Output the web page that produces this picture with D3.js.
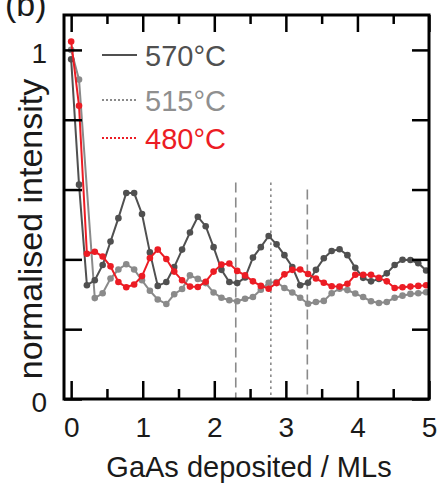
<!DOCTYPE html>
<html><head><meta charset="utf-8">
<script src="https://cdn.jsdelivr.net/npm/d3@7"></script>
<style>
body{margin:0;background:#fff;}
svg text{font-family:"Liberation Sans",Arial,sans-serif;}
</style></head>
<body><svg id="c" width="439" height="486"></svg>
<script>
// ---- data ----
const xML = [0,0.11,0.22,0.33,0.44,0.55,0.66,0.77,0.88,0.99,1.10,1.21,1.33,1.44,1.55,1.66,1.77,1.88,1.99,2.10,2.21,2.32,2.43,2.54,2.65,2.76,2.87,2.98,3.09,3.20,3.31,3.42,3.53,3.64,3.75,3.86,3.97,4.08,4.19,4.30,4.41,4.52,4.63,4.74,4.85,4.96];
const s570 = [0.973,0.614,0.326,0.34,0.384,0.451,0.518,0.59,0.59,0.53,0.42,0.324,0.335,0.378,0.428,0.477,0.522,0.495,0.435,0.37,0.335,0.332,0.348,0.405,0.435,0.467,0.443,0.412,0.378,0.326,0.333,0.37,0.403,0.424,0.429,0.412,0.376,0.347,0.337,0.344,0.36,0.384,0.399,0.398,0.389,0.368];
const s515 = [1.0,0.915,null,0.289,0.303,0.345,0.371,0.386,0.371,0.34,0.31,0.285,0.272,0.3,0.315,0.354,0.344,0.332,0.305,0.29,0.283,0.28,0.287,0.292,0.313,0.333,0.335,0.318,0.305,0.29,0.273,0.278,0.281,0.303,0.316,0.312,0.302,0.292,0.28,0.275,0.278,0.29,0.296,0.301,0.303,0.306];
const s480 = [1.024,0.84,0.416,0.422,0.408,0.38,0.335,0.32,0.328,0.352,0.404,0.428,0.401,0.365,0.34,0.322,0.321,0.336,0.365,0.385,0.388,0.367,0.354,0.337,0.324,0.316,0.332,0.357,0.37,0.371,0.358,0.345,0.333,0.323,0.322,0.33,0.356,0.356,0.356,0.347,0.337,0.318,0.32,0.322,0.324,0.326];
const seriesNames = ["570°C","515°C","480°C"];
const xTicks = [0,1,2,3,4,5];
const xMinorTicks = [0.5,1.5,2.5,3.5,4.5];
const yTicks = [0,0.2,0.4,0.6,0.8,1.0];
const yTickLabels = ["0","","","","","1"];
const vLineX = [2.3,2.79,3.3];
const vLineTop = [0.62,0.62,0.60];
const vLineKind = ["dash","dot","dash"];

// ---- layout ----
const svg = d3.select("#c");
const L=64, R=429, T=15, B=399;
const x = d3.scaleLinear().domain([-0.1,5]).range([L,R]);
const y = d3.scaleLinear().domain([0,1.1]).range([B,T]);
const colors = ["#505050","#8a8a8a","#ec1c24"];
const legendDash = [null,"2,2","2,2"];
const textColors = ["#505050","#8f8f8f","#ec1c24"];

// vertical reference lines
vLineX.forEach((v,i)=>{
  svg.append("line").attr("x1",x(v)).attr("x2",x(v)).attr("y1",y(vLineTop[i])).attr("y2",y(0))
    .attr("stroke","#8a8a8a").attr("stroke-width",1.6)
    .attr("stroke-dasharray",vLineKind[i]==="dash"?"10,5":"2.5,3.5");
});

// series
const all=[s570,s515,s480];
const order=[1,0,2];
order.forEach(k=>{
  const pts = xML.map((xv,i)=>[xv,all[k][i]]).filter(p=>p[1]!==null);
  const g=svg.append("g");
  g.append("path").datum(pts)
   .attr("d",d3.line().x(d=>x(d[0])).y(d=>y(d[1])))
   .attr("fill","none").attr("stroke",colors[k]).attr("stroke-width",2);
  g.selectAll("circle").data(pts).join("circle")
   .attr("cx",d=>x(d[0])).attr("cy",d=>y(d[1])).attr("r",3.3).attr("fill",colors[k]);
});

// axes
function styleAxis(g){
  g.select(".domain").remove();
  g.selectAll(".tick line").attr("stroke","#000").attr("stroke-width",2.5);
  g.selectAll(".tick text").attr("fill","#1a1a1a").style("font-size","28px")
   .style("font-family",'"Liberation Sans",Arial,sans-serif');
}
svg.append("g").attr("transform",`translate(0,${B})`)
  .call(d3.axisBottom(x).tickValues(xTicks).tickSizeInner(-18).tickSizeOuter(0).tickPadding(18).tickFormat(d3.format("d")))
  .call(styleAxis);
svg.append("g").attr("transform",`translate(0,${B})`)
  .call(d3.axisBottom(x).tickValues(xMinorTicks).tickSizeInner(-10).tickSizeOuter(0).tickFormat(""))
  .call(styleAxis);
svg.append("g").attr("transform",`translate(0,${T})`)
  .call(d3.axisTop(x).tickValues(xTicks).tickSizeInner(-17).tickSizeOuter(0).tickFormat(""))
  .call(styleAxis);
svg.append("g").attr("transform",`translate(0,${T})`)
  .call(d3.axisTop(x).tickValues(xMinorTicks).tickSizeInner(-9).tickSizeOuter(0).tickFormat(""))
  .call(styleAxis);
svg.append("g").attr("transform",`translate(${L},0)`)
  .call(d3.axisLeft(y).tickValues(yTicks).tickSizeInner(-18).tickSizeOuter(0).tickPadding(17).tickFormat((d,i)=>yTickLabels[i]))
  .call(styleAxis)
  .call(g=>g.selectAll(".tick text").attr("dy","0.45em"));
svg.append("g").attr("transform",`translate(${R},0)`)
  .call(d3.axisRight(y).tickValues(yTicks).tickSizeInner(-17).tickSizeOuter(0).tickFormat(""))
  .call(styleAxis);

// frame
svg.append("rect").attr("x",L).attr("y",T).attr("width",R-L).attr("height",B-T)
  .attr("fill","none").attr("stroke","#000").attr("stroke-width",3);

// legend
const legY=[66,111,149];
seriesNames.forEach((n,i)=>{
  svg.append("line").attr("x1",102).attr("x2",137).attr("y1",legY[i]-11).attr("y2",legY[i]-11)
    .attr("stroke",colors[i]).attr("stroke-width",2).attr("stroke-dasharray",legendDash[i]);
  svg.append("text").attr("x",145).attr("y",legY[i]).attr("fill",textColors[i])
    .style("font-size","29px").text(n);
});

// titles
svg.append("text").attr("x",249).attr("y",477).attr("text-anchor","middle")
  .attr("fill","#1a1a1a").style("font-size","29px").text("GaAs deposited / MLs");
svg.append("text").attr("transform","translate(42,229) rotate(-90)").attr("text-anchor","middle")
  .attr("fill","#1a1a1a").style("font-size","34px").text("normalised intensity");
svg.append("text").attr("x",5).attr("y",16).attr("fill","#1a1a1a").style("font-size","34px").text("(b)");
</script></body></html>
